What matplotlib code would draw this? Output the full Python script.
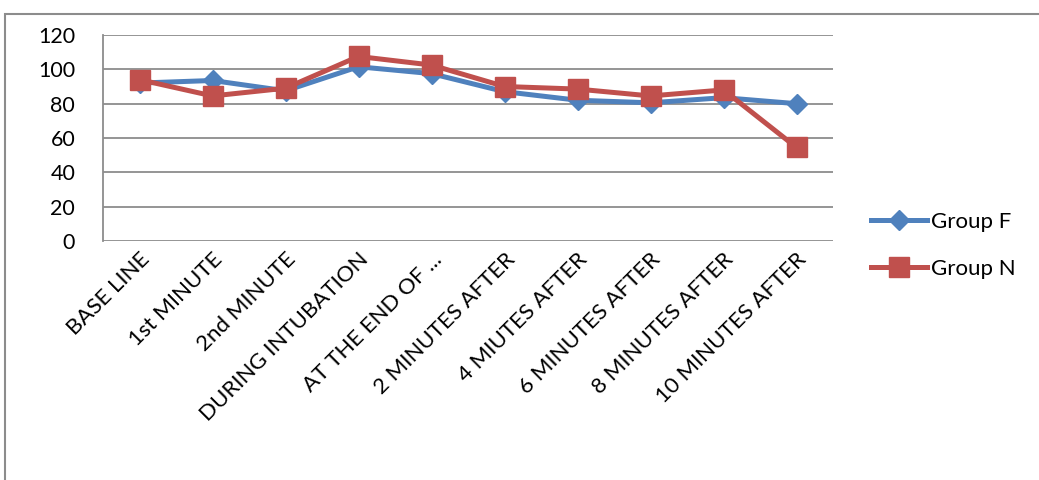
import matplotlib
matplotlib.use("Agg")
import matplotlib.pyplot as plt
from matplotlib.patches import Rectangle

categories = ["BASE LINE", "1st MINUTE", "2nd MINUTE", "DURING INTUBATION",
              "AT THE END OF ...", "2 MINUTES AFTER", "4 MIUTES AFTER",
              "6 MINUTES AFTER", "8 MINUTES AFTER", "10 MINUTES AFTER"]
group_f = [92, 93.5, 87.5, 101.5, 97.5, 87, 82, 80.5, 83.5, 80]
group_n = [94, 84.5, 89, 107.5, 102.5, 90, 88.5, 84.5, 88, 54.5]
yticks = [0, 20, 40, 60, 80, 100, 120]

plt.rcParams['font.family'] = ['Lato', 'DejaVu Sans']
fig = plt.figure(figsize=(10.39, 4.8), dpi=100)
ax = fig.add_axes([103/1039, 1-241/480, 730/1039, 206/480])

x = list(range(len(categories)))
ax.plot(x, group_f, color="#4F81BD", lw=3.6, marker="D", markersize=10.5,
        label="Group F", solid_joinstyle="round")
ax.plot(x, group_n, color="#C0504D", lw=3.6, marker="s", markersize=14,
        label="Group N", solid_joinstyle="round")

ax.set_xlim(-0.5, len(categories) - 0.5)
ax.set_ylim(0, 120)
ax.set_yticks(yticks)
ax.set_yticklabels([str(v) for v in yticks], fontsize=15.5)
ax.yaxis.grid(True, color="#8C8C8C", lw=1.3)
ax.set_axisbelow(True)
for s in ["top", "right", "bottom"]:
    ax.spines[s].set_visible(False)
ax.spines["left"].set_color("#8C8C8C")
ax.spines["left"].set_linewidth(1.3)
ax.tick_params(axis="y", length=0, pad=20)
ax.tick_params(axis="x", length=0, pad=6)
ax.set_xticks(x)
ax.set_xticklabels(categories, rotation=45, ha="right", rotation_mode="anchor",
                   fontsize=16)

leg = fig.legend(loc="center left", bbox_to_anchor=(871/1039, 1-245.5/480),
                 frameon=False, fontsize=16, handlelength=2.5,
                 labelspacing=1.2, handletextpad=0.22, borderpad=0,
                 borderaxespad=0)

fig.patches.append(Rectangle((5/1039, -0.1), 1.2, 1 - 14/480 + 0.1,
                             transform=fig.transFigure, fill=False,
                             edgecolor="#8C8C8C", lw=1.5))

fig.savefig("out.png", dpi=100)
